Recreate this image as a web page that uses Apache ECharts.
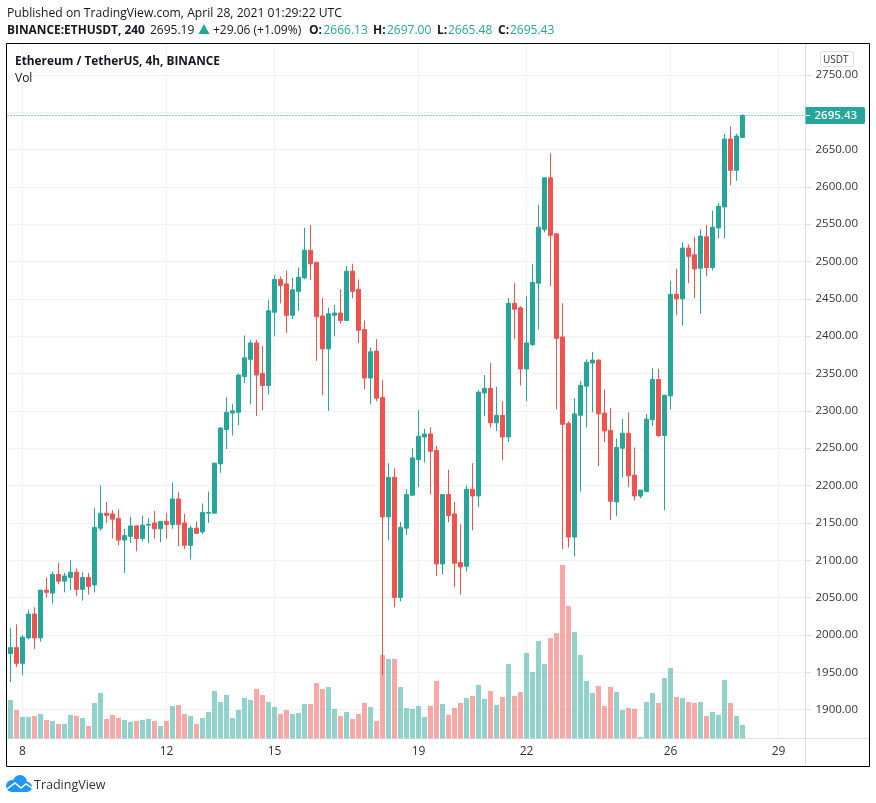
<!DOCTYPE html>
<html lang="en">
<head>
<meta charset="utf-8">
<title>ETHUSDT 4h</title>
<script src="https://cdn.jsdelivr.net/npm/echarts@6/dist/echarts.min.js"></script>
<style>
    html, body { margin: 0; padding: 0; background: #fff; }
    #main { width: 876px; height: 803px; }
</style>
</head>
<body>
<div id="main"></div>
<script>
    // one entry per 4h candle
    var opens = [
        1975,1983,1962,1996,2028,1996,2060,2056,2081,2072,
        2077,2084,2061,2077,2067,2143,2163,2162,2156,2127,
        2132,2146,2129,2147,2150,2142,2152,2148,2182,2150,
        2120,2143,2138,2163,2163,2229,2275,2297,2298,2346,
        2369,2391,2350,2334,2432,2476,2470,2428,2460,2478,
        2515,2499,2427,2383,2428,2431,2421,2487,2463,2409,
        2344,2380,2318,2158,2211,2050,2143,2187,2235,2265,
        2269,2247,2095,2188,2162,2097,2092,2195,2186,2324,
        2330,2284,2294,2265,2444,2438,2356,2389,2471,2543,
        2612,2537,2399,2283,2131,2294,2333,2364,2368,2297,
        2274,2178,2250,2270,2214,2186,2192,2288,2342,2267,
        2320,2456,2450,2518,2509,2491,2533,2492,2545,2573,
        2664,2622,2666.13
    ];
    var closes = [
        1983,1962,1997,2028,1996,2060,2057,2081,2072,2079,
        2084,2061,2077,2065,2144,2163,2160,2155,2127,2133,
        2146,2129,2147,2148,2142,2152,2148,2182,2148,2120,
        2143,2136,2164,2164,2230,2277,2298,2300,2348,2371,
        2391,2348,2334,2434,2476,2468,2428,2462,2479,2515,
        2497,2426,2383,2430,2431,2421,2487,2460,2408,2344,
        2379,2317,2158,2211,2050,2144,2188,2237,2266,2269,
        2246,2095,2188,2160,2096,2091,2195,2186,2325,2330,
        2284,2294,2265,2444,2436,2356,2391,2472,2546,2612,
        2535,2397,2282,2131,2296,2334,2365,2368,2296,2273,
        2179,2251,2270,2213,2186,2194,2289,2342,2267,2321,
        2456,2450,2518,2507,2490,2534,2492,2546,2574,2664,
        2622,2668,2695.43
    ];
    var lows = [
        1937,1957,1946,1994,1981,1991,2050,2042,2068,2057,
        2060,2052,2046,2054,2057,2139,2150,2129,2120,2083,
        2123,2112,2125,2123,2129,2124,2129,2142,2119,2115,
        2101,2136,2135,2150,2163,2217,2249,2267,2281,2337,
        2309,2293,2301,2322,2400,2444,2404,2423,2434,2476,
        2475,2367,2321,2300,2400,2417,2421,2451,2391,2329,
        2309,2313,1946,2127,2037,2045,2134,2187,2198,2231,
        2188,2079,2081,2151,2064,2054,2085,2140,2171,2293,
        2278,2273,2234,2258,2396,2334,2313,2387,2409,2539,
        2467,2302,2115,2117,2105,2192,2278,2298,2226,2258,
        2154,2159,2211,2198,2180,2183,2191,2280,2265,2167,
        2302,2428,2414,2471,2451,2430,2480,2488,2531,2531,
        2602,2608,2665.48
    ];
    var highs = [
        2009,2014,2000,2034,2037,2060,2077,2085,2097,2083,
        2100,2089,2084,2083,2170,2200,2178,2167,2168,2142,
        2158,2147,2160,2156,2166,2152,2163,2204,2191,2162,
        2146,2152,2176,2192,2230,2278,2318,2309,2350,2401,
        2395,2395,2387,2448,2482,2480,2488,2478,2492,2545,
        2549,2499,2451,2438,2442,2463,2494,2497,2476,2421,
        2385,2396,2341,2230,2223,2151,2195,2250,2301,2276,
        2278,2253,2188,2221,2178,2148,2200,2230,2328,2348,
        2364,2332,2313,2451,2471,2440,2454,2497,2576,2613,
        2645,2537,2444,2286,2317,2340,2369,2379,2369,2329,
        2304,2263,2289,2298,2251,2194,2296,2357,2356,2321,
        2474,2490,2526,2523,2533,2543,2549,2568,2578,2671,
        2681,2671,2697
    ];
    var volumes = [
        115,85,64,64,67,73,55,52,43,43,
        70,67,61,37,106,136,58,70,61,55,
        49,52,55,58,52,37,52,97,100,73,
        67,43,61,79,142,109,130,61,85,121,
        115,148,130,109,94,73,85,73,76,103,
        103,166,148,154,88,67,79,58,73,106,
        94,52,250,238,238,154,91,88,97,64,
        97,172,103,70,91,106,121,127,160,118,
        142,100,124,223,127,139,256,199,292,223,
        301,316,520,397,319,250,172,136,157,97,
        154,139,85,91,88,4,109,136,106,181,
        211,124,121,109,106,109,67,79,70,175,
        106,67,40
    ];
    var slotCount = 133;            // candles plus the empty space on the right
    var dayTickIndex = [2, 26, 44, 68, 86, 110, 128];
    var dayTickLabels = ['8', '12', '15', '19', '22', '26', '29'];
    var priceTicks = [1900,1950,2000,2050,2100,2150,2200,2250,2300,2350,2400,2450,2500,2550,2600,2650,2700,2750];
    // 2700 has its tick and gridline but the last price badge sits on its label
    var priceLabels = [1900,1950,2000,2050,2100,2150,2200,2250,2300,2350,2400,2450,2500,2550,2600,2650,2750];
    var lastPrice = 2695.43;

    var UP = '#26a69a', DOWN = '#ef5350';
    var UP_VOL = 'rgba(38,166,154,0.5)', DOWN_VOL = 'rgba(239,83,80,0.5)';
    var GRID = '#f1f1f1', AXIS = '#dedede', TEXT = '#131722', LABEL = '#2f323c';
    var FONT = '"Open Sans", "Noto Sans", sans-serif';

    var categories = [];
    for (var i = 0; i < slotCount; i++) categories.push(i);

    var candles = opens.map(function (o, i) {
        return [o, closes[i], lows[i], highs[i]];
    });
    var volumeBars = volumes.map(function (v, i) {
        return { value: v, itemStyle: { color: closes[i] >= opens[i] ? UP_VOL : DOWN_VOL } };
    });

    function txt(x, y, s, opt) {
        opt = opt || {};
        return {
            type: 'text', silent: true, z: 50,
            style: {
                x: x, y: y, text: s, fill: opt.fill || TEXT,
                font: (opt.bold ? '700 ' : '') + (opt.size || 12) + 'px ' + FONT,
                verticalAlign: 'middle'
            }
        };
    }

    var myChart = echarts.init(document.getElementById('main'), null, { renderer: 'canvas' });
    myChart.setOption({
        animation: false,
        backgroundColor: '#fff',
        grid: { left: 7.5, top: 44, width: 798, height: 694.3, containLabel: false },
        xAxis: {
            type: 'category',
            data: categories,
            boundaryGap: true,
            axisLine: { lineStyle: { color: AXIS } },
            axisTick: {
                alignWithLabel: true, length: 4, lineStyle: { color: AXIS },
                interval: function (idx) { return dayTickIndex.indexOf(idx) >= 0; }
            },
            axisLabel: {
                color: LABEL, fontFamily: FONT, fontSize: 12, margin: 7,
                interval: function (idx) { return dayTickIndex.indexOf(idx) >= 0; },
                formatter: function (v, idx) { return dayTickLabels[dayTickIndex.indexOf(idx)]; }
            },
            splitLine: {
                show: true, alignWithLabel: true, lineStyle: { color: GRID },
                interval: function (idx) { return dayTickIndex.indexOf(idx) >= 0; }
            }
        },
        yAxis: [
            {
                type: 'value',
                position: 'right',
                min: 1861.6,
                max: 2791.2,
                axisLine: { show: true, lineStyle: { color: AXIS } },
                axisTick: { show: true, length: 5, lineStyle: { color: AXIS }, customValues: priceTicks },
                axisLabel: {
                    color: LABEL, fontFamily: FONT, fontSize: 11.5, margin: 10, padding: [2, 0, 0, 0],
                    customValues: priceLabels,
                    formatter: function (v) { return v.toFixed(2); }
                },
                splitLine: { show: true, lineStyle: { color: GRID } }
            },
            {
                // volume pane shares the grid, tallest bar stays in the lower quarter
                type: 'value', min: 0, max: 2083, show: false, splitLine: { show: false }
            }
        ],
        series: [
            {
                name: 'Vol',
                type: 'bar',
                yAxisIndex: 1,
                barWidth: 5,
                data: volumeBars,
                silent: true
            },
            {
                name: 'ETHUSDT',
                type: 'candlestick',
                barWidth: 4,
                data: candles,
                silent: true,
                itemStyle: { color: UP, color0: DOWN, borderColor: UP, borderColor0: DOWN, borderWidth: 1 },
                markLine: {
                    silent: true,
                    symbol: 'none',
                    animation: false,
                    label: {
                        position: 'end', distance: 0, color: '#fff', fontFamily: FONT, fontSize: 11.5, fontWeight: 600,
                        lineHeight: 15, backgroundColor: UP, padding: [1, 8, 1, 9], borderRadius: [0, 2, 2, 0],
                        formatter: function () { return lastPrice.toFixed(2); }
                    },
                    data: [{ yAxis: lastPrice, lineStyle: { type: [1, 2], color: UP, width: 1, opacity: 1 } }]
                }
            }
        ],
        graphic: [
            // outer frame and the axis lines running out to it
            { type: 'rect', silent: true, z: 40, shape: { x: 6.5, y: 43.5, width: 863, height: 723 }, style: { fill: 'none', stroke: '#000', lineWidth: 1 } },
            { type: 'line', silent: true, z: 1, shape: { x1: 805.5, y1: 738.5, x2: 869, y2: 738.5 }, style: { stroke: AXIS, lineWidth: 1 } },
            { type: 'line', silent: true, z: 1, shape: { x1: 805.5, y1: 738.5, x2: 805.5, y2: 766 }, style: { stroke: AXIS, lineWidth: 1 } },
            { type: 'line', silent: true, z: 60, shape: { x1: 806, y1: 115.5, x2: 810, y2: 115.5 }, style: { stroke: '#fff', lineWidth: 1 } },

            // currency button
            { type: 'rect', silent: true, z: 30, shape: { x: 820.5, y: 51.5, width: 33, height: 15, r: 2 }, style: { fill: '#fff', stroke: AXIS, lineWidth: 1 } },
            txt(823, 60, 'USDT', { size: 10, fill: LABEL }),

            // header
            txt(7, 14, 'Published on TradingView.com, April 28, 2021 01:29:22 UTC', { size: 12.15 }),
            txt(7, 31, 'BINANCE:ETHUSDT, 240', { bold: true, size: 11.9 }),
            txt(150, 31, '2695.19'),
            { type: 'polygon', silent: true, z: 50, shape: { points: [[204, 24], [209.5, 34], [198.5, 34]] }, style: { fill: UP } },
            txt(213, 31, '+29.06 (+1.09%)'),
            txt(309, 31, 'O:', { bold: true }),
            txt(323.5, 31, '2666.13', { fill: UP }),
            txt(373, 31, 'H:', { bold: true }),
            txt(387, 31, '2697.00', { fill: UP }),
            txt(437, 31, 'L:', { bold: true }),
            txt(448, 31, '2665.48', { fill: UP }),
            txt(498, 31, 'C:', { bold: true }),
            txt(510, 31, '2695.43', { fill: UP }),

            // legend
            txt(15, 62, 'Ethereum / TetherUS, 4h, BINANCE', { bold: true, size: 11.85 }),
            txt(15, 79, 'Vol'),

            // logo
            { type: 'circle', silent: true, z: 50, shape: { cx: 12, cy: 786, r: 6 }, style: { fill: '#2196f3' } },
            { type: 'circle', silent: true, z: 50, shape: { cx: 20, cy: 782, r: 7 }, style: { fill: '#2196f3' } },
            { type: 'circle', silent: true, z: 50, shape: { cx: 27, cy: 787, r: 5 }, style: { fill: '#2196f3' } },
            { type: 'rect', silent: true, z: 50, shape: { x: 12, y: 786, width: 15, height: 6 }, style: { fill: '#2196f3' } },
            { type: 'polyline', silent: true, z: 51, shape: { points: [[7, 789], [15, 783], [21, 788], [26, 784], [32, 788]] }, style: { fill: 'none', stroke: '#fff', lineWidth: 1.5 } },
            txt(34, 785, 'TradingView', { size: 12.5, fill: LABEL })
        ]
    });
</script>
</body>
</html>
